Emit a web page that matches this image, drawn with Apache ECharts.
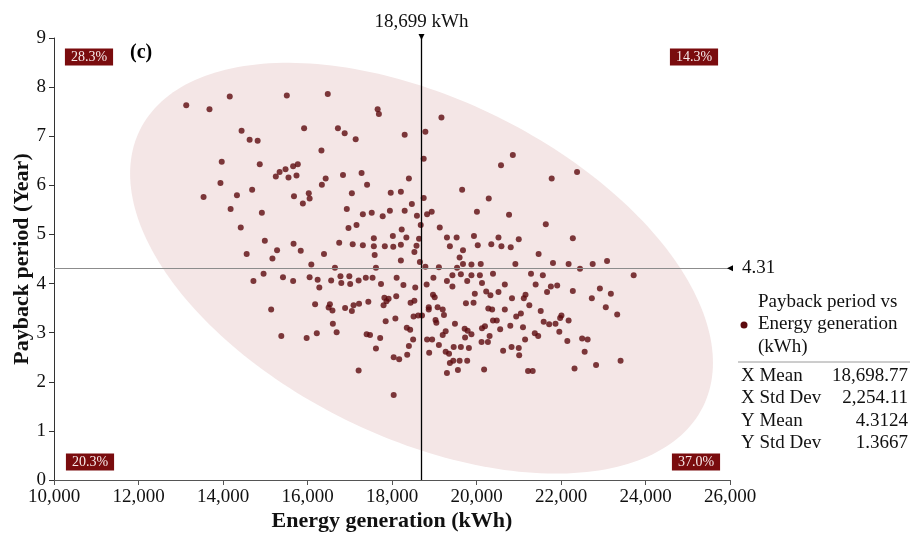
<!DOCTYPE html>
<html>
<head>
<meta charset="utf-8">
<script src="https://cdn.jsdelivr.net/npm/echarts@6/dist/echarts.min.js"></script>
<style>
  html, body { margin: 0; padding: 0; background: #fff; }
  #chart { width: 910px; height: 534px; }
</style>
</head>
<body>
<div id="chart"></div>
<script>
// Energy generation (kWh) of each system
const energy = [
  13130, 13680, 14160, 15510, 14440, 14630, 14820, 13970, 14870, 15250,
  15340, 15480, 15550, 13940, 14690, 14330, 13540, 14180, 14920, 14420,
  14990, 15280, 14560, 15170, 16480, 17660, 17690, 15920, 16720, 16880,
  17140, 18300, 18790, 16330, 18750, 15660, 15770, 15740, 16840, 16430,
  16340, 17280, 17410, 18400, 15680, 16030, 16050, 15890, 17050, 17970,
  18210, 18750, 16930, 18470, 17950, 18300, 17310, 17520, 17780, 18590,
  18830, 16970, 17160, 18230, 18680, 18020, 18340, 17570, 16750, 17070,
  17310, 17570, 17830, 18030, 18210, 18580, 18640, 15670, 15840, 16390,
  18530, 17590, 18210, 18660, 16090, 16650, 17620, 18790, 19170, 20860,
  20580, 21780, 19660, 20290, 18940, 20010, 20770, 19130, 21640, 19300,
  19530, 19940, 20520, 21000, 19370, 19680, 20030, 20350, 20590, 20810,
  19600, 19680, 19880, 20100, 21470, 21810, 22180, 20920, 19110, 19540,
  22380, 22280, 22750, 23090, 22450, 14960, 14720, 15420, 15140, 15380,
  15660, 16050, 16240, 16280, 16560, 16780, 16990, 16800, 17010, 17210,
  17380, 17540, 17740, 18110, 18270, 18550, 18820, 16180, 16530, 16500,
  16590, 16890, 17090, 17220, 17050, 17440, 17820, 17920, 17870, 17800,
  18100, 18440, 18530, 18870, 16600, 16220, 16690, 15980, 17400, 17480,
  17720, 17850, 18080, 18510, 18620, 18710, 18350, 18430, 18500, 18830,
  17620, 18400, 18040, 18170, 18360, 18880, 17210, 18040, 18980, 19300,
  19430, 19630, 19880, 20080, 20390, 19430, 19780, 20130, 20670, 21290,
  21570, 21400, 21760, 21910, 21670, 19960, 20230, 20330, 20520, 18970,
  19010, 21160, 21120, 20840, 19750, 19930, 21250, 18870, 19080, 19200,
  19230, 20280, 20370, 20670, 21050, 20940, 21520, 19030, 19050, 20390,
  20480, 22010, 21980, 22180, 21590, 21720, 21870, 19490, 20200, 20130,
  20560, 20800, 21100, 19720, 19790, 19880, 19270, 19200, 20310, 21960,
  21380, 21460, 19730, 18950, 20120, 20270, 21150, 22150, 19110, 19460,
  19630, 19820, 20630, 20830, 21000, 21010, 19270, 19350, 19450, 19370,
  19600, 19780, 19300, 19560, 20180, 21220, 21330, 23720, 22280, 22920,
  23180, 22730, 23060, 23330, 22500, 22630, 22560, 23410, 22320, 22830
];

// Payback period (years) of each system, same order
const payback = [
  7.63, 7.55, 7.81, 7.83, 7.11, 6.93, 6.91, 6.48, 6.43, 6.18,
  6.27, 6.33, 6.16, 6.05, 5.91, 5.80, 5.76, 5.52, 5.44, 5.14,
  4.87, 4.68, 4.60, 4.51, 7.86, 7.55, 7.45, 7.16, 7.16, 7.06,
  6.94, 7.03, 7.09, 6.71, 6.54, 6.39, 6.43, 6.20, 6.21, 6.14,
  6.01, 6.25, 6.01, 6.14, 5.78, 5.84, 5.73, 5.63, 5.84, 5.85,
  5.87, 5.74, 5.52, 5.62, 5.48, 5.48, 5.41, 5.44, 5.37, 5.38,
  5.41, 5.13, 5.19, 5.10, 5.19, 4.97, 4.94, 4.92, 4.83, 4.80,
  4.78, 4.76, 4.76, 4.75, 4.79, 4.77, 4.91, 4.81, 4.67, 4.60,
  4.64, 4.58, 4.47, 4.44, 4.39, 4.32, 4.32, 4.34, 7.38, 6.62,
  6.41, 6.14, 5.91, 5.73, 5.46, 5.46, 5.40, 5.14, 5.21, 4.94,
  4.94, 4.97, 4.94, 4.90, 4.76, 4.68, 4.78, 4.80, 4.76, 4.74,
  4.53, 4.40, 4.39, 4.40, 4.60, 4.42, 4.40, 4.40, 4.33, 4.32,
  6.27, 4.92, 4.40, 4.46, 4.30, 4.20, 4.05, 4.13, 3.47, 2.93,
  4.05, 4.13, 4.08, 3.92, 4.06, 4.15, 4.15, 4.01, 3.99, 4.06,
  4.12, 4.12, 3.99, 4.12, 3.97, 3.92, 3.98, 3.58, 3.58, 3.51,
  3.45, 3.50, 3.56, 3.59, 3.44, 3.63, 3.71, 3.69, 3.64, 3.56,
  3.74, 3.61, 3.65, 3.47, 3.18, 2.99, 3.01, 2.89, 2.97, 2.95,
  2.89, 3.23, 3.29, 3.33, 3.35, 3.35, 3.10, 3.06, 2.86, 2.86,
  2.68, 2.73, 2.50, 2.46, 2.55, 2.59, 2.23, 1.73, 4.12, 4.05,
  4.17, 4.19, 4.17, 4.17, 4.20, 3.94, 4.05, 4.01, 3.98, 4.20,
  4.17, 3.98, 3.94, 3.96, 3.83, 3.79, 3.84, 3.76, 3.83, 3.77,
  3.72, 3.77, 3.70, 3.70, 3.60, 3.61, 3.56, 3.52, 3.52, 3.47,
  3.36, 3.49, 3.47, 3.47, 3.39, 3.33, 3.44, 3.26, 3.20, 3.25,
  3.25, 3.35, 3.30, 3.25, 3.22, 3.17, 3.18, 3.18, 3.13, 3.09,
  3.07, 3.14, 3.11, 3.08, 3.04, 2.97, 3.03, 2.95, 2.93, 3.02,
  2.99, 2.93, 2.90, 2.86, 2.81, 2.81, 2.86, 2.83, 2.75, 2.71,
  2.71, 2.69, 2.63, 2.71, 2.69, 2.54, 2.61, 2.57, 2.43, 2.38,
  2.43, 2.43, 2.18, 2.24, 2.25, 2.22, 2.22, 4.17, 3.85, 3.90,
  3.79, 3.70, 3.52, 3.37, 2.88, 2.86, 2.61, 2.43, 2.27, 2.34
];

// Summary statistics
const xMean = 18698.77;
const xStdDev = 2254.11;
const yMean = 4.3124;
const yStdDev = 1.3667;
const correlation = -0.46;
const ellipseScale = 3.06;

const statNames = ['X Mean', 'X Std Dev', 'Y Mean', 'Y Std Dev'];
const statValues = [xMean, xStdDev, yMean, yStdDev];
const statDigits = [2, 2, 4, 4];

// Share of points in each quadrant around the means: TL, TR, BL, BR
const quadrantShares = ['28.3%', '14.3%', '20.3%', '37.0%'];

const legendLines = ['Payback period vs', 'Energy generation', '(kWh)'];
const seriesName = legendLines.join(' ');
const serif = '"Liberation Serif", "DejaVu Serif", serif';
const markColor = '#5c0a0e';
const badgeColor = '#7a0c0e';

const fmt = (v, d) => v.toLocaleString('en-US', { minimumFractionDigits: d, maximumFractionDigits: d });

const points = energy.map((x, i) => [x, payback[i]]);

const chart = echarts.init(document.getElementById('chart'), null, { renderer: 'canvas' });

const badge = (text, x, y) => ({
  type: 'text',
  x: x, y: y,
  z: 20,
  style: {
    text: text,
    align: 'center',
    verticalAlign: 'middle',
    fill: '#f6e9e9',
    font: '14px ' + serif,
    backgroundColor: badgeColor,
    padding: [2, 6, 1, 6]
  }
});

// legend block: marker plus three lines of text
const legendGraphics = [
  {
    type: 'circle', z: 20,
    shape: { cx: 744, cy: 325, r: 3.5 },
    style: { fill: markColor }
  }
];
legendLines.forEach((line, i) => {
  legendGraphics.push({
    type: 'text', x: 758, y: 302 + i * 22.5, z: 20,
    style: { text: line, align: 'left', verticalAlign: 'middle', fill: '#111', font: '19px ' + serif }
  });
});

const statGraphics = [];
statNames.forEach((name, i) => {
  const y = 376 + i * 22.4;
  statGraphics.push({
    type: 'text', x: 741, y: y, z: 20,
    style: { text: name, align: 'left', verticalAlign: 'middle', fill: '#111', font: '19px ' + serif }
  });
  statGraphics.push({
    type: 'text', x: 908, y: y, z: 20,
    style: { text: fmt(statValues[i], statDigits[i]), align: 'right', verticalAlign: 'middle', fill: '#111', font: '19px ' + serif }
  });
});

const option = {
  animation: false,
  backgroundColor: '#fff',
  grid: { left: 54, right: 180, top: 38, bottom: 54, containLabel: false, outerBoundsMode: 'none' },
  xAxis: {
    type: 'value',
    min: 10000, max: 26000, interval: 2000,
    name: 'Energy generation (kWh)',
    nameLocation: 'middle',
    nameGap: 30,
    nameMoveOverlap: false,
    nameTextStyle: { fontFamily: serif, fontWeight: 'bold', fontSize: 22, color: '#111' },
    axisLine: { show: true, lineStyle: { color: '#555', width: 1 } },
    axisTick: { show: true, length: 5, lineStyle: { color: '#555' } },
    axisLabel: {
      fontFamily: serif, fontSize: 19, color: '#111', margin: 8,
      formatter: v => v.toLocaleString('en-US')
    },
    splitLine: { show: false }
  },
  yAxis: {
    type: 'value',
    min: 0, max: 9, interval: 1,
    name: 'Payback period (Year)',
    nameLocation: 'middle',
    nameGap: 21,
    nameMoveOverlap: false,
    nameTextStyle: { fontFamily: serif, fontWeight: 'bold', fontSize: 22, color: '#111' },
    axisLine: { show: true, lineStyle: { color: '#333', width: 1 } },
    axisTick: { show: true, length: 5, lineStyle: { color: '#333' } },
    axisLabel: { fontFamily: serif, fontSize: 19, color: '#111', margin: 8 },
    splitLine: { show: false }
  },
  series: [
    {
      // density ellipse from the means, standard deviations and correlation
      type: 'custom',
      name: 'ellipse',
      silent: true,
      clip: true,
      z: 1,
      data: [[xMean, yMean]],
      renderItem: function (params, api) {
        const pts = [];
        const s = Math.sqrt(1 - correlation * correlation);
        for (let i = 0; i <= 240; i++) {
          const t = (i / 240) * Math.PI * 2;
          const u = Math.cos(t), v = Math.sin(t);
          pts.push(api.coord([
            xMean + ellipseScale * xStdDev * u,
            yMean + ellipseScale * yStdDev * (correlation * u + s * v)
          ]));
        }
        return { type: 'polygon', shape: { points: pts }, style: { fill: '#f4e6e6' } };
      }
    },
    {
      type: 'scatter',
      name: seriesName,
      data: points,
      symbol: 'circle',
      symbolSize: 6,
      itemStyle: { color: markColor },
      z: 3,
      markLine: {
        silent: true,
        symbol: 'none',
        animation: false,
        label: { show: false },
        data: [
          { xAxis: xMean, lineStyle: { color: '#000', width: 1.3, type: 'solid' } },
          { yAxis: yMean, lineStyle: { color: '#8c8c8c', width: 1, type: 'solid' } }
        ]
      },
      markPoint: {
        silent: true,
        animation: false,
        data: [
          {
            coord: [xMean, 9], symbol: 'triangle', symbolRotate: 180, symbolSize: [6, 6],
            symbolOffset: [0, -1],
            itemStyle: { color: '#000' },
            label: {
              show: true, position: 'top', distance: 2,
              formatter: fmt(xMean, 0) + ' kWh',
              fontFamily: serif, fontSize: 19, color: '#111'
            }
          },
          {
            coord: [26000, yMean], symbol: 'triangle', symbolRotate: 90, symbolSize: [6, 6],
            itemStyle: { color: '#000' },
            label: {
              show: true, position: 'right', distance: 9,
              formatter: fmt(yMean, 2),
              fontFamily: serif, fontSize: 19, color: '#111'
            }
          }
        ]
      }
    }
  ],
  graphic: [
    badge(quadrantShares[0], 89, 57),
    badge(quadrantShares[1], 694, 57),
    badge(quadrantShares[2], 90, 462),
    badge(quadrantShares[3], 696, 462),
    {
      type: 'text', x: 130, y: 53, z: 20,
      style: { text: '(c)', align: 'left', verticalAlign: 'middle', fill: '#000', font: 'bold 20px ' + serif }
    },
    {
      type: 'line', z: 10,
      shape: { x1: 738, y1: 362, x2: 910, y2: 362 },
      style: { stroke: '#9a9a9a', lineWidth: 1 }
    }
  ].concat(legendGraphics, statGraphics)
};

chart.setOption(option);
</script>
</body>
</html>
